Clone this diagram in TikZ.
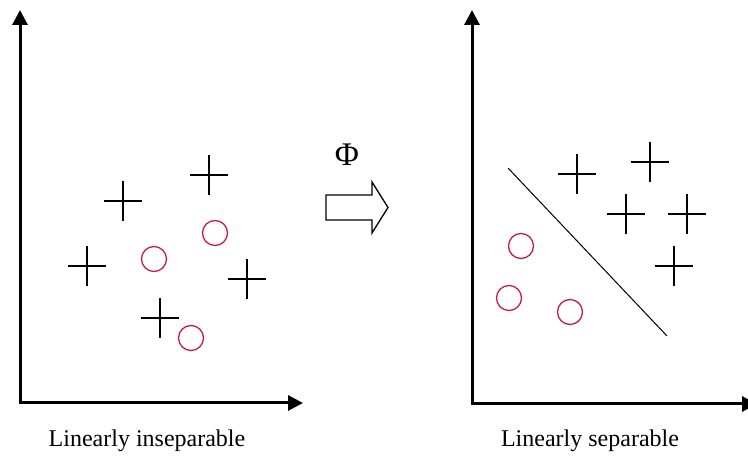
\documentclass[tikz,border=0pt]{standalone}
\usepackage{fontspec}
\setmainfont{Liberation Serif}
\usetikzlibrary{arrows.meta}
\definecolor{ptred}{RGB}{200,30,60}
\tikzset{
  axis/.style={line width=3pt, -{Triangle[width=15pt,length=15pt]}},
  plusmark/.pic={\draw[line width=1.4pt] (-19,0) -- (19,0) (0,-20) -- (0,20);},
  plusthick/.pic={\draw[line width=1.6pt] (-19,0) -- (19,0); \draw[line width=2.6pt] (0,-20) -- (0,20);},
  circmark/.style={circle, draw=ptred, line width=1.3pt, minimum size=25pt, inner sep=0pt},
  caption/.style={anchor=base, font=\fontsize{24}{24}\selectfont, inner sep=0pt},
}
\begin{document}
\begin{tikzpicture}[x=1pt, y=-1pt]
\useasboundingbox (0,0) rectangle (748,457);
% left axes
\coordinate (lo) at (20,403);
\coordinate (ltop) at (20,10);
\coordinate (lright) at (303,403);
\draw[axis] (lo) -- (ltop);
\draw[axis] ([xshift=-1.5pt]lo) -- (lright);
% right axes
\coordinate (ro) at (472,404);
\coordinate (rtop) at (472,10);
\coordinate (rright) at (757,404);
\draw[axis] (ro) -- (rtop);
\draw[axis] ([xshift=-1.5pt]ro) -- (rright);
% left crosses
\pic at (123,201) {plusmark};
\pic at (209,175) {plusmark};
\pic at (87,266) {plusmark};
\pic at (247,279) {plusmark};
\pic at (160,318) {plusmark};
% left circles
\node[circmark] (lc1) at (154,259) {};
\node[circmark] (lc2) at (215,233) {};
\node[circmark] (lc3) at (191,338) {};
% right crosses
\pic at (577,174) {plusmark};
\pic at (650,162) {plusthick};
\pic at (626,214) {plusmark};
\pic at (687,214) {plusmark};
\pic at (674,266) {plusthick};
% right circles
\node[circmark] (rc1) at (521,246) {};
\node[circmark] (rc2) at (509,298) {};
\node[circmark] (rc3) at (570,312) {};
% separating line
\coordinate (s1) at (508,168);
\coordinate (s2) at (667,336);
\draw[line width=1pt] (s1) -- (s2);
% mapping arrow
\node[font=\fontsize{33}{33}\selectfont, inner sep=0pt] (phi) at (347,155) {Φ};
\draw[line width=1.3pt, line join=miter] (326,195) -- (372,195) -- (372,182) -- (388,207.5) -- (372,233) -- (372,220) -- (326,220) -- cycle;
% captions
\node[caption] (lcap) at (147,446.5) {Linearly inseparable};
\node[caption] (rcap) at (590,446.5) {Linearly separable};
\end{tikzpicture}
\end{document}
